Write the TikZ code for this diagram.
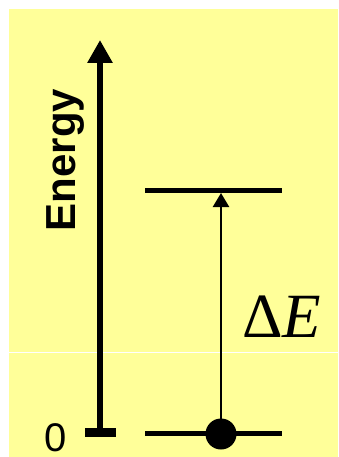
\documentclass[tikz,border=0pt]{standalone}
\usepackage{fontspec}
\setmainfont{Liberation Sans}
\newfontfamily\seriffont{Liberation Serif}
\usepackage{tikz}
\usetikzlibrary{arrows.meta}
\definecolor{amareloFundo}{RGB}{255,255,153}

\begin{document}
\begin{tikzpicture}[x=1pt, y=-1pt,
    nivel/.style={line width=5pt},
    eixo/.style={line width=6pt, -{Triangle[length=23pt, width=24pt]}},
    salto/.style={line width=2.5pt, -{Triangle[length=14pt, width=16pt]}},
    eletron/.style={circle, fill=black, inner sep=0pt, minimum size=31pt},
    rotulo/.style={inner sep=0pt, anchor=base}
]
    \useasboundingbox (0, 0) rectangle (338, 457);
    \fill[amareloFundo] (9, 9) rectangle (338, 457);
    \draw[white, line width=1pt] (9, 352) -- (338, 352);

    % eixo de energia
    \coordinate (base) at (100, 432);
    \coordinate (topo) at (100, 40);
    \draw[eixo] (base) -- (topo);
    \draw[line width=9pt] (85, 432.5) -- (116, 432.5);
    \node[rotulo, rotate=90] (energia) at (75.5, 160) {\fontsize{42}{42}\selectfont\bfseries Energy};
    \node[rotulo] (zero) at (55.5, 451) {\fontsize{40}{40}\selectfont 0};

    % niveis
    \coordinate (n1a) at (145, 433);
    \coordinate (n1b) at (282, 433);
    \coordinate (n2a) at (145, 190.5);
    \coordinate (n2b) at (282, 190.5);
    \draw[nivel] (n1a) -- (n1b);
    \draw[nivel] (n2a) -- (n2b);
    \coordinate (alvo) at (221, 193);

    \node[eletron] (e) at (221, 434) {};
    \draw[salto] (e.center) -- (alvo);
    \node[rotulo] (delta) at (281.5, 337) {\seriffont\fontsize{63}{63}\selectfont Δ\textit{E}};
\end{tikzpicture}
\end{document}
